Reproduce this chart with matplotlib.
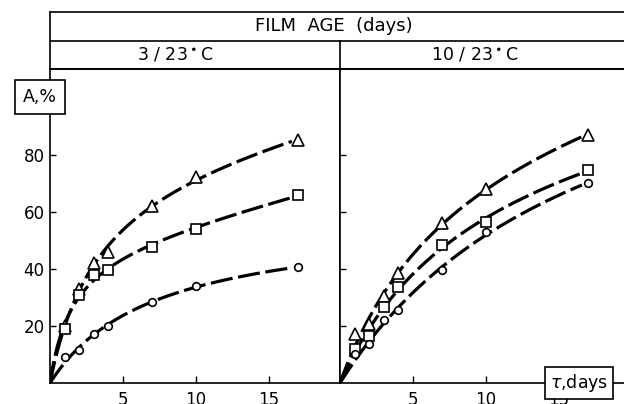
import numpy as np
import matplotlib
matplotlib.use("Agg")
import matplotlib.pyplot as plt

# film exposure time, days
t = [1, 2, 3, 4, 7, 10, 17]

# A, % -- film age 3 days / 23 C
left_tri = [20, 33, 42, 46, 62, 72, 85]
left_sq = [19, 31, 38, 39.5, 47.5, 54, 66]
left_circ = [9, 11.5, 17, 20, 28.5, 34, 40.5]

# A, % -- film age 10 days / 23 C
right_tri = [17, 20.5, 30.5, 38.5, 56, 68, 87]
right_sq = [12, 16.5, 26.5, 33.5, 48.5, 56.5, 74.5]
right_circ = [10, 13.5, 22, 25.5, 39.5, 53, 70]

panel_titles = ["3 / 23$^\\bullet$C", "10 / 23$^\\bullet$C"]
xticks = [5, 10, 15]
yticks = [20, 40, 60, 80]

plt.rcParams['font.family'] = ['DejaVu Sans']
plt.rcParams['lines.scale_dashes'] = False

W, H = 624, 404
fig = plt.figure(figsize=(W / 100, H / 100), dpi=100)


def fx(px):
    return px / W


def fy(py):
    return 1 - py / H


def smooth(x, y):
    # saturating fit through the origin: A = a*t/(b+t) + c*t
    x = np.asarray(x, float)
    y = np.asarray(y, float)
    best = None
    for b in np.linspace(0.3, 40, 400):
        M = np.column_stack([x / (b + x), x])
        coef, res = np.linalg.lstsq(M, y, rcond=None)[:2]
        err = np.sum((M @ coef - y) ** 2)
        if best is None or err < best[0]:
            best = (err, b, coef)
    _, b, coef = best
    xx = np.linspace(0, x.max() - 0.4, 300)
    return xx, coef[0] * xx / (b + xx) + coef[1] * xx


ax1 = fig.add_axes([fx(50), fy(383), fx(290), (383 - 69) / H])
ax2 = fig.add_axes([fx(340), fy(383), fx(290), (383 - 69) / H])

data = [(ax1, left_tri, left_sq, left_circ),
        (ax2, right_tri, right_sq, right_circ)]

for ax, tri, sq, circ in data:
    for vals, mk, ms in ((tri, '^', 8), (sq, 's', 7.5), (circ, 'o', 5.5)):
        xx, yy = smooth(t, vals)
        ax.plot(xx, yy, color='black', lw=2.3, dashes=(16, 4),
                solid_capstyle='butt', dash_capstyle='butt', zorder=2)
        ax.plot(t, vals, linestyle='none', marker=mk, ms=ms, mfc='white',
                mec='black', mew=1.2, zorder=3, clip_on=False)
    ax.set_xlim(0, 19.9)
    ax.set_ylim(0, 110)
    ax.set_xticks(xticks)
    ax.set_yticks(yticks)
    ax.tick_params(direction='in', length=5, width=1, labelsize=12,
                   pad=6, colors='black')
    ax.tick_params(axis='y', length=4)
    for sp in ax.spines.values():
        sp.set_linewidth(1.2)

ax1.tick_params(axis='y', pad=4)
ax2.set_yticklabels([])
ax2.spines['right'].set_visible(False)
ax2.spines['left'].set_visible(False)

# header boxes
hd = fig.add_axes([fx(50), fy(69), fx(580), (69 - 12) / H])
hd.set_xlim(0, 1)
hd.set_ylim(0, 1)
hd.set_xticks([])
hd.set_yticks([])
hd.patch.set_alpha(0)
for sp in hd.spines.values():
    sp.set_linewidth(1.2)
hd.spines['right'].set_visible(False)
hd.axhline(28 / 57, color='black', lw=1.2)
hd.text(0.49, 0.75, "FILM  AGE  (days)", ha='center', va='center',
        fontsize=13)
hd.text(125 / 580, 0.25, panel_titles[0], ha='center', va='center',
        fontsize=12.5)
hd.text(425 / 580, 0.25, panel_titles[1], ha='center', va='center',
        fontsize=12.5)
# divider between panels, full height
fig.add_artist(plt.Line2D([fx(340), fx(340)], [fy(383), fy(41)],
                          color='black', lw=1.2))

# axis label boxes
fig.text(fx(40), fy(97), "A,%", ha='center', va='center', fontsize=12.5,
         bbox=dict(boxstyle='square,pad=0.45', fc='white', ec='black', lw=1.2))
fig.text(fx(579), fy(383), "$\\tau$,days", ha='center', va='center',
         fontsize=12.5, zorder=10,
         bbox=dict(boxstyle='square,pad=0.3', fc='white', ec='black', lw=1.2))

fig.savefig("out.png", dpi=100)
